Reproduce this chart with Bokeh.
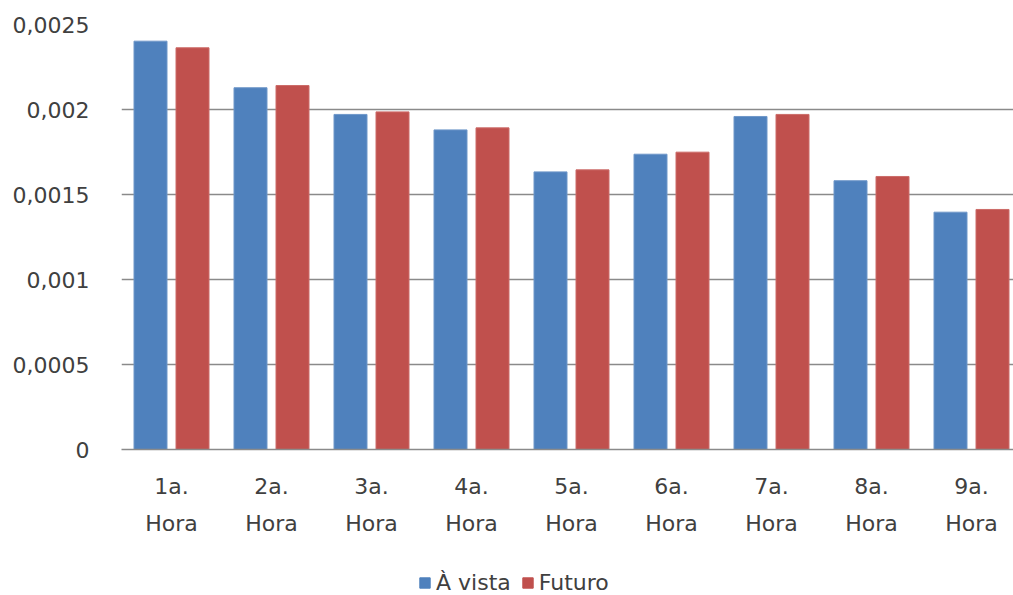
from bokeh.plotting import figure
from bokeh.layouts import column
from bokeh.models import (ColumnDataSource, FixedTicker, Legend, LegendItem, Range1d)
from bokeh.transform import dodge
from bokeh.embed import file_html
from bokeh.resources import INLINE

categories = ["1a.\nHora", "2a.\nHora", "3a.\nHora", "4a.\nHora", "5a.\nHora",
              "6a.\nHora", "7a.\nHora", "8a.\nHora", "9a.\nHora"]
a_vista = [0.002402, 0.002128, 0.001971, 0.001880, 0.001633,
           0.001737, 0.001959, 0.001581, 0.001396]
futuro = [0.002363, 0.002141, 0.001986, 0.001892, 0.001645,
          0.001749, 0.001971, 0.001606, 0.001412]
series_names = ["À vista", "Futuro"]
y_ticks = [0, 0.0005, 0.001, 0.0015, 0.002, 0.0025]
y_tick_labels = ["0", "0,0005", "0,001", "0,0015", "0,002", "0,0025"]

pos = [i + 0.5 for i in range(len(categories))]
src = ColumnDataSource(dict(pos=pos, a=a_vista, f=futuro))

FONT = "DejaVu Sans"
TXT = "#404040"
GRID = "#8a8a8a"
BLUE = "#4F81BD"
RED = "#C0504D"

p = figure(width=1013, height=544, output_backend="svg", toolbar_location=None,
           x_range=Range1d(0, 8.92), y_range=Range1d(0, 0.0025),
           min_border_left=121, min_border_right=0, min_border_top=24,
           min_border_bottom=95)
p.outline_line_color = None

p.vbar(x=dodge("pos", -0.21), top="a", width=0.33, source=src,
       fill_color=BLUE, line_color="#6f97c9", line_width=1)
p.vbar(x=dodge("pos", 0.21), top="f", width=0.33, source=src,
       fill_color=RED, line_color="#cc6b68", line_width=1)

# x axis
p.xaxis.ticker = FixedTicker(ticks=pos)
p.xaxis.major_label_overrides = {x: c for x, c in zip(pos, categories)}
p.xaxis.major_tick_line_color = None
p.xaxis.minor_tick_line_color = None
p.xaxis.axis_line_color = GRID
p.xaxis.axis_line_width = 1.5
p.xaxis.major_label_text_font = FONT
p.xaxis.major_label_text_font_size = "22px"
p.xaxis.major_label_text_color = TXT
p.xaxis.major_label_text_line_height = 1.5
p.xaxis.major_label_standoff = 18
p.xgrid.grid_line_color = None

# y axis
p.yaxis.ticker = FixedTicker(ticks=y_ticks)
p.yaxis.major_label_overrides = {t: l for t, l in zip(y_ticks, y_tick_labels)}
p.yaxis.major_tick_line_color = None
p.yaxis.minor_tick_line_color = None
p.yaxis.axis_line_color = None
p.yaxis.major_label_text_font = FONT
p.yaxis.major_label_text_font_size = "22px"
p.yaxis.major_label_text_color = TXT
p.yaxis.major_label_standoff = 26
p.ygrid.grid_line_color = GRID
p.ygrid.grid_line_width = 1.5

# legend strip below the chart (legend keys are zero-height proxy bars)
lp = figure(width=1013, height=51, output_backend="svg", toolbar_location=None,
            x_range=Range1d(0, 1), y_range=Range1d(0, 1),
            min_border=0, outline_line_color=None)
lp.axis.visible = False
lp.grid.visible = False
proxy = ColumnDataSource(dict(x=[0.0], top=[0.0]))
k1 = lp.vbar(x="x", top="top", width=0.01, source=proxy, fill_color=BLUE, line_color=BLUE)
k2 = lp.vbar(x="x", top="top", width=0.01, source=proxy, fill_color=RED, line_color=RED)
legend = Legend(items=[LegendItem(label=series_names[0], renderers=[k1]),
                       LegendItem(label=series_names[1], renderers=[k2])],
                orientation="horizontal", location=(297, 0),
                label_text_font=FONT, label_text_font_size="22px",
                label_text_color=TXT, glyph_width=13, glyph_height=13,
                spacing=10, label_standoff=5, padding=0, margin=0,
                border_line_color=None, background_fill_alpha=0)
lp.add_layout(legend, "center")

layout = column(p, lp, spacing=0)
open("out.html", "w").write(file_html(layout, INLINE))
